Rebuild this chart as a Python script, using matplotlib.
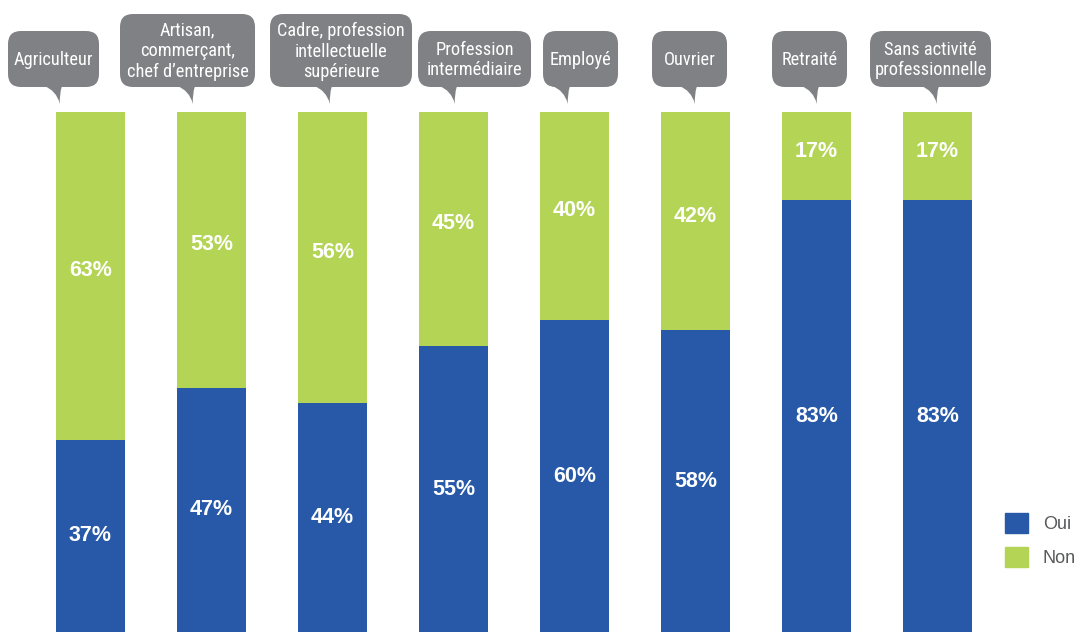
import numpy as np
import matplotlib
matplotlib.use("Agg")
import matplotlib.pyplot as plt
from matplotlib.patches import FancyBboxPatch, PathPatch, Patch
from matplotlib.path import Path

categories = ["Agriculteur",
              "Artisan,\ncommerçant,\nchef d\u2019entreprise",
              "Cadre, profession\nintellectuelle\nsupérieure",
              "Profession\nintermédiaire",
              "Employé",
              "Ouvrier",
              "Retraité",
              "Sans activité\nprofessionnelle"]
oui = [37, 47, 44, 55, 60, 58, 83, 83]
non = [63, 53, 56, 45, 40, 42, 17, 17]
series_names = ["Oui", "Non"]

# bubble layout (pixels, relative to bar centre): centre offset, width, tail offset
bubble_dx = [-37, -24, 8.5, 21, 6, -6, -7, -7]
bubble_w = [91, 135, 142, 113, 75, 75, 75, 121]
tail_dx = [-30.5, -18.5, -2.5, 1.5, -6.5, -0.5, 0.5, -0.5]

BLUE = "#2759a8"
GREEN = "#b3d455"
GRAY = "#808185"

plt.rcParams['font.family'] = ['Liberation Sans', 'DejaVu Sans']

W, H = 1078, 632
fig = plt.figure(figsize=(W / 100, H / 100), dpi=100)
ax = fig.add_axes([0, 0, 1, 1])
xlim = (-0.748, 8.161)
ax.set_xlim(*xlim)
ax.set_ylim(0, 121.54)
ax.axis("off")

x = np.arange(len(categories))
ax.bar(x, oui, width=0.57, color=BLUE, label=series_names[0])
ax.bar(x, non, width=0.57, bottom=oui, color=GREEN, label=series_names[1])

for i in range(len(categories)):
    ax.text(x[i], oui[i] / 2, f"{oui[i]}%", ha="center", va="center",
            color="white", fontsize=15.5, fontweight="bold")
    ax.text(x[i], oui[i] + non[i] / 2 + 1, f"{non[i]}%", ha="center", va="center",
            color="white", fontsize=15.5, fontweight="bold")

# overlay in pixel coords for the speech bubbles
ov = fig.add_axes([0, 0, 1, 1])
ov.set_xlim(0, W)
ov.set_ylim(H, 0)
ov.axis("off")
ov.patch.set_alpha(0)

for i, lab in enumerate(categories):
    cx = (x[i] - xlim[0]) / (xlim[1] - xlim[0]) * W
    nlines = lab.count("\n") + 1
    top = 14 if nlines == 3 else 31
    bot = 87
    bx = cx + bubble_dx[i]
    w = bubble_w[i]
    ov.add_patch(FancyBboxPatch((bx - w / 2, top), w, bot - top,
                                boxstyle="round,pad=0,rounding_size=13",
                                fc=GRAY, ec="none"))
    tx, ty = cx + tail_dx[i], 104
    verts = [(tx - 16, bot - 1), (tx - 4, bot + 3), (tx, ty),
             (tx - 1, bot + 8), (tx + 2, bot - 1), (tx - 16, bot - 1)]
    codes = [Path.MOVETO, Path.CURVE3, Path.CURVE3, Path.CURVE3, Path.CURVE3, Path.CLOSEPOLY]
    ov.add_patch(PathPatch(Path(verts, codes), fc=GRAY, ec="none"))
    ov.text(bx, (top + bot) / 2 + 1, lab, ha="center", va="center", color="white",
            fontsize=13.2, family=['Roboto Condensed', 'DejaVu Sans'], linespacing=1.2)

handles = [Patch(color=BLUE), Patch(color=GREEN)]
ax.legend(handles, series_names, loc="upper left", frameon=False,
          bbox_to_anchor=(998 / W, 1 - 506 / H), fontsize=13,
          handlelength=1.28, handleheight=1.28, labelspacing=0.8,
          handletextpad=0.8, labelcolor="#58595b", borderaxespad=0)

fig.savefig("out.png", dpi=100)
